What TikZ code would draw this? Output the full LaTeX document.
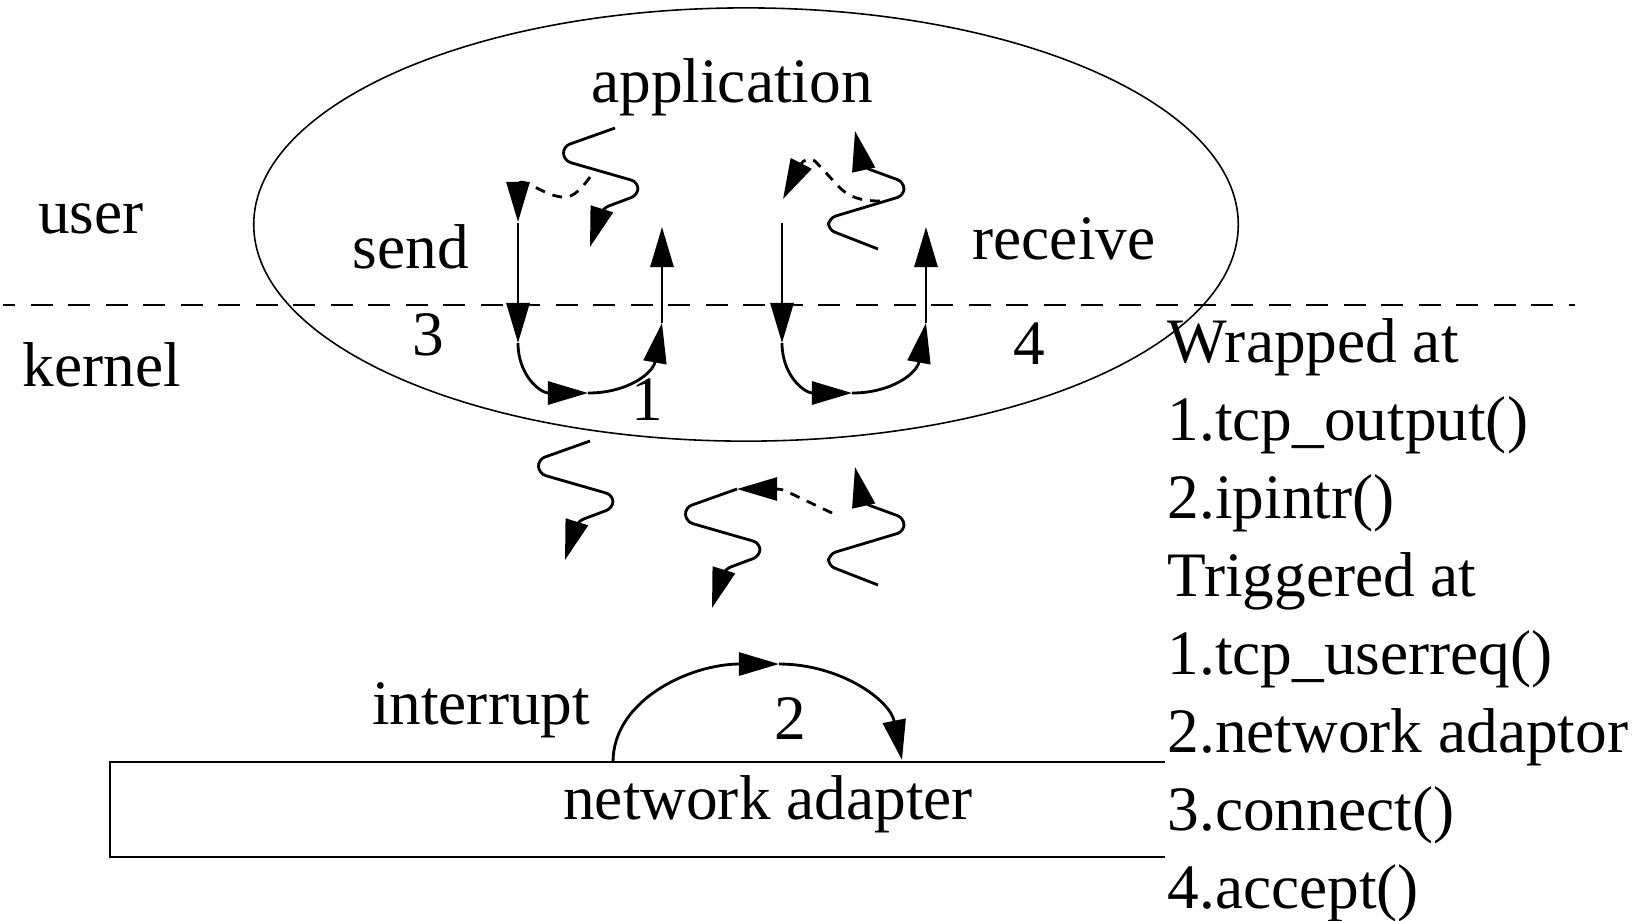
\documentclass[tikz,border=0pt]{standalone}
\usepackage{fontspec}
\setmainfont{Liberation Serif}
\usetikzlibrary{arrows.meta,shapes.geometric}
\tikzset{
  arr/.style={line width=0.8pt, -{Triangle[length=0.40cm,width=0.23cm]}},
  sq/.style={arr, rounded corners=0.07cm},
  dsh/.style={arr, dash pattern=on 0.1cm off 0.08cm},
  lbl/.style={inner sep=0pt, anchor=base, font=\fontsize{18}{22}\selectfont},
  lst/.style={inner sep=0pt, anchor=base west, font=\fontsize{18}{22}\selectfont},
  squigdown/.pic={\draw[sq] (0,0) -- (-52,18.5) -- (-51,32.7) -- (23,54) -- (23,67) -- (-13,80.5) -- (-25,119);},
  squigup/.pic={\draw[sq] (0,0) -- (-50,-19.5) -- (-49,-31) -- (26,-53.5) -- (26,-67) -- (-15,-82) -- (-23,-118);}
}
\begin{document}
\begin{tikzpicture}[x=0.01cm,y=-0.01cm]
\useasboundingbox (0,0) rectangle (1646,920);
% user/kernel boundary
\draw[line width=0.45pt, dash pattern=on 0.22cm off 0.155cm, dash phase=0.10cm] (3,305) -- (1575,305);
% ellipse
\node[draw, ellipse, line width=0.45pt, minimum width=9.84cm, minimum height=4.33cm, inner sep=0pt] (space) at (746,224.5) {};
% network adapter box (open on the right)
\draw[line width=0.6pt] (1165,762) -- (110,762) -- (110,857) -- (1165,857);
% labels
\node[lbl] (app) at (732,102) {application};
\node[lbl] (user) at (91,233) {user};
\node[lbl] (send) at (411,268) {send};
\node[lbl] (recv) at (1064,259) {receive};
\node[lbl] (kernel) at (102,386) {kernel};
\node[lbl] (n3) at (428,355) {3};
\node[lbl] (n4) at (1029,364) {4};
\node[lbl] (n1) at (647,420) {1};
\node[lbl] (intr) at (481,724) {interrupt};
\node[lbl] (n2) at (790,739) {2};
\node[lbl] (nic) at (768,819) {network adapter};
\node[lst] (w1) at (1167,362) {Wrapped at};
\node[lst] (w2) at (1167,440) {1.tcp\_output()};
\node[lst] (w3) at (1167,518) {2.ipintr()};
\node[lst] (w4) at (1167,596) {Triggered at};
\node[lst] (w5) at (1167,674) {1.tcp\_userreq()};
\node[lst] (w6) at (1167,752) {2.network adaptor};
\node[lst] (w7) at (1167,830) {3.connect()};
\node[lst] (w8) at (1167,908) {4.accept()};
% squiggles
\pic at (615,128) {squigdown};
\pic at (590,441) {squigdown};
\pic at (737,489) {squigdown};
\pic at (878,249) {squigup};
\pic at (878,585) {squigup};
% dashed connectors
\draw[dsh] (590,177) .. controls (578,194) and (570,198) .. (562,197) .. controls (548,196) and (530,183) .. (522,182) .. controls (518,182) and (518,186) .. (518,222);
\draw[dsh] (880,201) .. controls (860,201) and (850,197) .. (840,188) -- (815,161) .. controls (810,157) and (803,160) .. (783,199);
\draw[dsh] (832,513) -- (790,493) .. controls (785,490) and (780,489) .. (737,489);
% send U
\coordinate (s1) at (518,223);
\coordinate (s2) at (518,343);
\coordinate (s3) at (588,393);
\coordinate (s4) at (662,323);
\coordinate (s5) at (662,227);
\draw[arr] (s1) -- (s2);
\draw[arr] (s2) .. controls (518,375) and (540,393) .. (s3);
\draw[arr] (s3) .. controls (628,393) and (653,373) .. (s4);
\draw[arr] (s4) -- (s5);
% receive U
\coordinate (r1) at (782,223);
\coordinate (r2) at (782,343);
\coordinate (r3) at (852,393);
\coordinate (r4) at (926,323);
\coordinate (r5) at (926,227);
\draw[arr] (r1) -- (r2);
\draw[arr] (r2) .. controls (782,375) and (804,393) .. (r3);
\draw[arr] (r3) .. controls (892,393) and (917,373) .. (r4);
\draw[arr] (r4) -- (r5);
% interrupt arc
\coordinate (i1) at (613,762);
\coordinate (i2) at (779,664);
\coordinate (i3) at (902,760);
\draw[arr] (i1) .. controls (613,700) and (690,664) .. (i2);
\draw[arr] (i2) .. controls (840,664) and (890,700) .. (i3);
\end{tikzpicture}
\end{document}
